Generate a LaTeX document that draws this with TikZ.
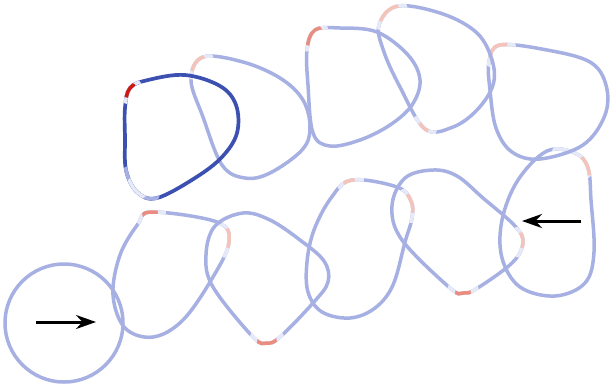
\documentclass[tikz,border=0pt]{standalone}
\usetikzlibrary{arrows.meta}
\definecolor{ringblue}{RGB}{166,176,226}
\definecolor{ringdeep}{RGB}{60,80,178}
\definecolor{ringfade}{RGB}{230,233,248}
\definecolor{ringpink}{RGB}{244,196,186}
\definecolor{ringrose}{RGB}{234,140,128}
\definecolor{ringred}{RGB}{205,25,20}
% the loops, first (circle) to last (D shape)
\newcommand{\loopA}[1]{\draw[#1] (64,323) circle[radius=29.5pt];}
\newcommand{\loopB}[1]{\draw[#1] plot[smooth cycle,tension=.6] coordinates {(152,212) (217,222) (229,242) (213,277) (183,320) (153,337) (125,328) (113,295) (120,255) (138,224)};}
\newcommand{\loopC}[1]{\draw[#1] plot[smooth cycle,tension=.6] coordinates {(243,213) (270,220) (300,240) (324,261) (328,282) (313,303) (280,337) (267,343) (253,337) (213,287) (206,255) (215,226)};}
\newcommand{\loopD}[1]{\draw[#1] plot[smooth cycle,tension=.6] coordinates {(352,180) (397,187) (411,201) (412,218) (405,242) (393,285) (375,308) (350,318) (322,312) (308,292) (307,262) (314,230) (331,198)};}
\newcommand{\loopE}[1]{\draw[#1] plot[smooth cycle,tension=.6] coordinates {(433,170) (457,176) (483,198) (515,226) (523,243) (512,263) (476,289) (463,293) (450,288) (402,240) (392,206) (405,178)};}
\newcommand{\loopF}[1]{\draw[#1] plot[smooth cycle,tension=.6] coordinates {(547,151) (575,153) (588,168) (591,200) (594,252) (585,283) (555,296) (520,287) (502,258) (502,220) (518,180)};}
\newcommand{\loopG}[1]{\draw[#1] plot[smooth cycle,tension=.6] coordinates {(500,45) (547,50) (590,62) (606,85) (605,115) (583,145) (540,159) (512,152) (496,128) (490,90) (489,62)};}
\newcommand{\loopH}[1]{\draw[#1] plot[smooth cycle,tension=.6] coordinates {(398,6) (443,14) (477,33) (492,60) (493,85) (477,110) (453,127) (425,129) (400,87) (384,52) (379,25)};}
\newcommand{\loopI}[1]{\draw[#1] plot[smooth cycle,tension=.6] coordinates {(315,30) (340,28) (377,32) (408,55) (420,80) (412,105) (390,125) (360,140) (330,146) (313,133) (308,85) (307,50)};}
\newcommand{\loopJ}[1]{\draw[#1] plot[smooth cycle,tension=.6] coordinates {(203,57) (243,62) (280,78) (303,100) (310,128) (302,150) (270,173) (245,178) (222,165) (203,117) (191,80)};}
\newcommand{\loopK}[1]{\draw[#1] plot[smooth cycle,tension=.6] coordinates {(130,88) (125,108) (125,138) (126,170) (137,192) (157,198) (195,178) (222,157) (237,133) (236,105) (220,86) (185,75) (148,80)};}
% redraw part of a loop inside a small circle
\newcommand{\tint}[4]{\begin{scope}\clip (#3) circle[radius=#4]; #1{#2}\end{scope}}
\begin{document}
\begin{tikzpicture}[x=0.5pt,y=-0.5pt,
    ring/.style={draw=ringblue,line width=1.75pt},
    fade/.style={ring,draw=ringfade},
    pink/.style={ring,draw=ringpink},
    rose/.style={ring,draw=ringrose},
    deep/.style={ring,draw=ringdeep,line width=1.85pt}]
\useasboundingbox (0,0) rectangle (611,387);
\loopA{ring}
\loopB{ring} \tint{\loopB}{fade}{150,213}{8pt} \tint{\loopB}{rose}{150,213}{4pt}
             \tint{\loopB}{fade}{228,240}{9pt} \tint{\loopB}{pink}{229,238}{5pt}
\loopC{ring} \tint{\loopC}{fade}{267,342}{9pt} \tint{\loopC}{rose}{267,342}{5pt}
\loopD{ring} \tint{\loopD}{fade}{350,181}{7pt} \tint{\loopD}{pink}{349,181}{3pt}
             \tint{\loopD}{fade}{411,205}{9pt} \tint{\loopD}{pink}{412,203}{5pt}
\loopE{ring} \tint{\loopE}{fade}{463,292}{8pt} \tint{\loopE}{rose}{463,293}{4pt}
             \tint{\loopE}{fade}{522,242}{8pt} \tint{\loopE}{pink}{523,240}{4pt}
\loopF{ring} \tint{\loopF}{fade}{575,158}{12pt} \tint{\loopF}{pink}{586,166}{5pt}
\loopG{ring} \tint{\loopG}{fade}{496,48}{10pt} \tint{\loopG}{pink}{496,48}{6pt}
\loopH{ring} \tint{\loopH}{fade}{388,12}{10pt} \tint{\loopH}{pink}{388,12}{6pt}
             \tint{\loopH}{fade}{423,128}{7pt} \tint{\loopH}{pink}{423,128}{3pt}
\loopI{ring} \tint{\loopI}{fade}{311,34}{9pt} \tint{\loopI}{rose}{311,34}{6pt}
\loopJ{ring} \tint{\loopJ}{fade}{196,62}{9pt} \tint{\loopJ}{pink}{196,62}{5pt}
\loopK{deep} \tint{\loopK}{ring}{137,188}{12pt} \tint{\loopK}{fade}{137,188}{6pt}
             \tint{\loopK}{fade}{129,90}{7pt} \tint{\loopK}{ring,draw=ringred}{129,90}{4pt}
% arrows
\coordinate (inA) at (36,322);  \coordinate (inB) at (96,322);
\coordinate (outA) at (581,221); \coordinate (outB) at (522,221);
\draw[-{Stealth[length=10pt,width=7pt]},line width=1.5pt] (inA) -- (inB);
\draw[-{Stealth[length=10pt,width=7pt]},line width=1.5pt] (outA) -- (outB);
\end{tikzpicture}
\end{document}
